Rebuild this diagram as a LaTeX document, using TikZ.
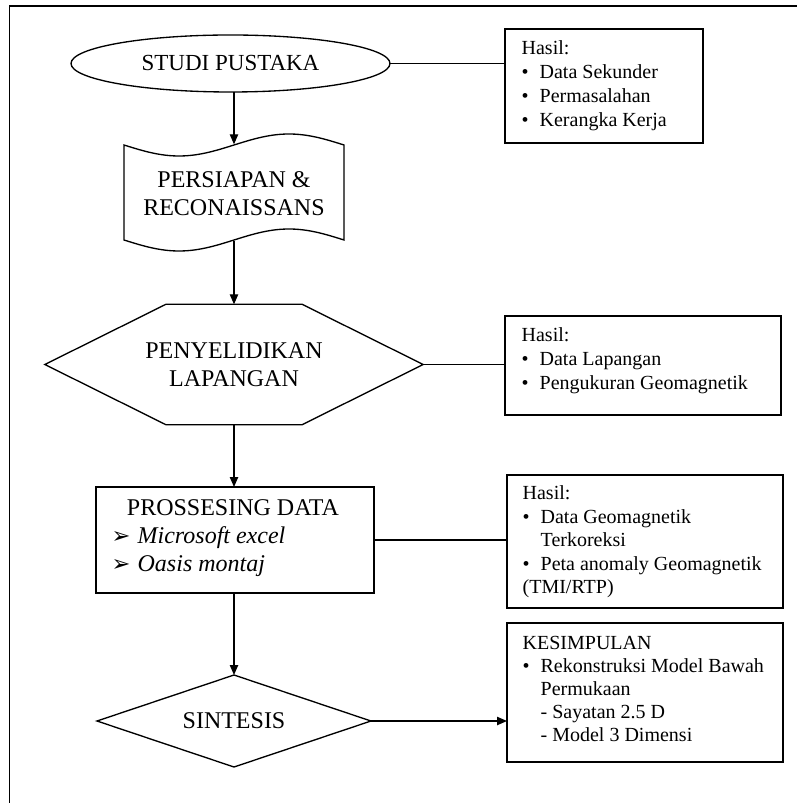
\documentclass[tikz,border=0pt]{standalone}
\usepackage{fontspec}
\setmainfont{Liberation Serif}
\newfontfamily\symfont{DejaVu Sans}
\usetikzlibrary{shapes.geometric,arrows.meta,calc}
\newcommand\upx{0.6pt}
\newcommand\resbul{\makebox[10.8pt][l]{\textbullet}}
\newcommand\resind{\hspace*{10.8pt}}
\newcommand\procmark{\makebox[15.6pt][l]{\raisebox{-0.3pt}{\symfont\fontsize{13.5}{14}\selectfont ➢}}}
\begin{document}
\begin{tikzpicture}[x=0.6pt,y=-0.6pt,line width=0.8pt,
  shapebox/.style={draw, inner sep=0pt, outer sep=0pt},
  mainlbl/.style={font=\fontsize{14.4}{16.8}\selectfont, align=center, inner sep=0pt},
  boxtxt/.style={inner sep=0pt, anchor=base west},
  arr/.style={-{Triangle[length=6pt,width=5pt]}}]
\useasboundingbox (0,0) rectangle (797,803);
% outer frame
\draw (9.5,803) -- (9.5,6) -- (797,6);

% central column
\node[shapebox, ellipse, minimum width=319*\upx, minimum height=57*\upx,
      font=\fontsize{13.8}{16}\selectfont] (ell) at (230.5,63.5) {STUDI PUSTAKA};

\node[inner sep=0pt, minimum width=220*\upx, minimum height=95*\upx] (scr) at (234,192.5) {};
\draw plot[domain=0:220, samples=60, smooth] ({124+\x},{145+11*sin(1.636364*\x)})
   -- plot[domain=220:0, samples=60, smooth] ({124+\x},{240+11*sin(1.636364*\x)}) -- cycle;
\node[mainlbl] (scrt) at (234,194) {PERSIAPAN \&\\RECONAISSANS};

\node[mainlbl, minimum width=377*\upx, minimum height=119*\upx] (hex) at (234,364.5) {PENYELIDIKAN\\LAPANGAN};
\draw (hex.west) -- ($(hex.north west)+(121,0)$) -- ($(hex.north east)+(-121,0)$)
  -- (hex.east) -- ($(hex.south east)+(-121,0)$) -- ($(hex.south west)+(121,0)$) -- cycle;

\node[shapebox, rectangle, minimum width=278*\upx, minimum height=106*\upx] (proc) at (235,540) {};
\node[mainlbl, anchor=base] (proct) at (233,515) {PROSSESING DATA};
\node[inner sep=0pt, anchor=base west, font=\fontsize{14.4}{16.8}\selectfont\itshape] (p1) at (111,543) {\procmark Microsoft excel};
\node[inner sep=0pt, anchor=base west, font=\fontsize{14.4}{16.8}\selectfont\itshape] (p2) at (111,571) {\procmark Oasis montaj};

\node[shapebox, diamond, aspect=3, minimum width=274*\upx, minimum height=92*\upx,
      font=\fontsize{14.4}{16.8}\selectfont] (dia) at (234,721) {SINTESIS};

% result boxes
\node[shapebox, minimum width=198*\upx, minimum height=114*\upx] (r1) at (604,86) {};
\node[boxtxt, font=\fontsize{12}{14.4}\selectfont] (r1t) at (521,54.6) {\begin{tabular}[t]{@{}l@{}}
Hasil:\\
\resbul Data Sekunder\\
\resbul Permasalahan\\
\resbul Kerangka Kerja
\end{tabular}};

\node[shapebox, minimum width=276*\upx, minimum height=99*\upx] (r2) at (643,365.5) {};
\node[boxtxt, font=\fontsize{12}{14.4}\selectfont] (r2t) at (521,341.6) {\begin{tabular}[t]{@{}l@{}}
Hasil:\\
\resbul Data Lapangan\\
\resbul Pengukuran Geomagnetik
\end{tabular}};

\node[shapebox, minimum width=276*\upx, minimum height=133*\upx] (r3) at (645,541.5) {};
\node[boxtxt, font=\fontsize{12}{14.1}\selectfont] (r3t) at (522,499.6) {\begin{tabular}[t]{@{}l@{}}
Hasil:\\
\resbul Data Geomagnetik\\
\resind Terkoreksi\\
\resbul Peta anomaly Geomagnetik\\
(TMI/RTP)
\end{tabular}};

\node[shapebox, minimum width=276*\upx, minimum height=139*\upx] (r4) at (645,692.5) {};
\node[boxtxt, font=\fontsize{12}{13.8}\selectfont] (r4t) at (522,649.6) {\begin{tabular}[t]{@{}l@{}}
KESIMPULAN\\
\resbul Rekonstruksi Model Bawah\\
\resind Permukaan\\
\resind - Sayatan 2.5 D\\
\resind - Model 3 Dimensi
\end{tabular}};

% connectors
\draw (ell.east) -- (ell.east -| r1.west);
\draw[arr] (ell.south -| scr.north) -- (scr.north);
\draw[arr] (scr.south) -- (scr.south |- hex.north);
\draw (hex.east) -- (hex.east -| r2.west);
\draw[arr] (hex.south) -- (hex.south |- proc.north);
\draw (proc.east) -- (proc.east -| r3.west);
\draw[arr] (dia.north |- proc.south) -- (dia.north);
\draw[arr] (dia.east) -- (dia.east -| r4.west);
\end{tikzpicture}
\end{document}
